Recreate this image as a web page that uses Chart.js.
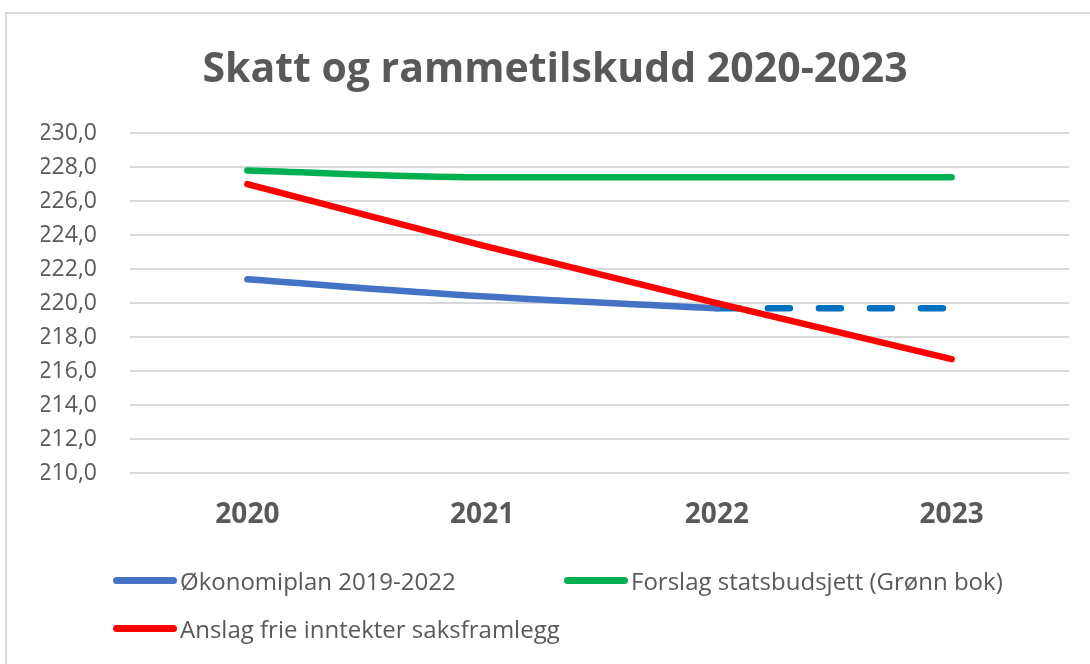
<!DOCTYPE html>
<html lang="no">
<head>
<meta charset="utf-8">
<title>Skatt og rammetilskudd 2020-2023</title>
<script src="https://cdn.jsdelivr.net/npm/chart.js@4"></script>
<style>
  html, body { margin: 0; padding: 0; background: #fff; overflow: hidden; }
  #wrap { position: relative; width: 1090px; height: 664px; overflow: hidden; }
  #frame {
    position: absolute; left: 5px; top: 12px; width: 1200px; height: 800px;
    border: 2px solid #d9d9d9; box-sizing: border-box;
  }
  #chartBox { position: absolute; left: 0; top: 0; width: 1110px; height: 664px; }
  #legend {
    position: absolute; left: 113px; top: 564px;
    display: grid; grid-template-columns: 451px auto; row-gap: 16px;
    font-family: "Open Sans", sans-serif; font-size: 24px; color: #595959;
  }
  .item { display: flex; align-items: center; height: 32px; white-space: nowrap; }
  .swatch { width: 64px; height: 7px; border-radius: 4px; margin-right: 3px; }
</style>
</head>
<body>
<div id="wrap">
  <div id="frame"></div>
  <div id="chartBox"><canvas id="chart" width="1110" height="664"></canvas></div>
  <div id="legend"></div>
</div>
<script>
const years = ["2020", "2021", "2022", "2023"];
const okonomiplan = [221.4, 220.4, 219.7, null];
const okonomiplanVidere = [null, null, 219.7, 219.7];
const statsbudsjett = [227.8, 227.4, 227.4, 227.4];
const frieInntekter = [227.0, 223.4, 220.0, 216.7];

const yMin = 210;
const yMax = 230;
const yStep = 2;

const grey = "#595959";

const chart = new Chart(document.getElementById("chart"), {
  type: "line",
  data: {
    labels: years,
    datasets: [
      {
        label: "Økonomiplan 2019-2022",
        data: okonomiplan,
        borderColor: "#4472c4",
        borderWidth: 6.5,
        cubicInterpolationMode: "monotone",
        order: 3
      },
      {
        label: "Forslag statsbudsjett (Grønn bok)",
        data: statsbudsjett,
        borderColor: "#00b050",
        borderWidth: 6.5,
        cubicInterpolationMode: "monotone",
        order: 2
      },
      {
        label: "Anslag frie inntekter saksframlegg",
        data: frieInntekter,
        borderColor: "#ff0000",
        borderWidth: 6.5,
        order: 1
      },
      {
        label: "",
        data: okonomiplanVidere,
        borderColor: "#0070c0",
        borderWidth: 6.5,
        borderDash: [22, 29],
        order: 4,
        inLegend: false
      }
    ]
  },
  options: {
    responsive: false,
    animation: false,
    layout: { padding: { left: 41, right: 41, top: 0, bottom: 0 } },
    elements: {
      point: { radius: 0, hoverRadius: 0 },
      line: { borderCapStyle: "round", borderJoinStyle: "round", fill: false }
    },
    plugins: {
      legend: { display: false },
      tooltip: { enabled: false },
      title: {
        display: true,
        text: "Skatt og rammetilskudd 2020-2023",
        color: grey,
        font: { family: "Open Sans", size: 41, weight: "bold", lineHeight: 1.2 },
        padding: { top: 46, bottom: 38 }
      }
    },
    scales: {
      x: {
        offset: true,
        grid: { display: false, drawTicks: false },
        border: { display: false },
        ticks: {
          color: grey,
          padding: 25,
          font: { family: "Open Sans", size: 28, weight: "bold" }
        },
        afterFit: s => { s.height = 191; }
      },
      y: {
        min: yMin,
        max: yMax,
        grid: { color: "#d9d9d9", lineWidth: 2, drawTicks: false },
        border: { display: false },
        ticks: {
          stepSize: yStep,
          color: grey,
          padding: 33,
          font: { family: "Open Sans", size: 23 },
          callback: v => v.toFixed(1).replace(".", ",")
        },
        afterFit: s => { s.width = 89; }
      }
    }
  }
});

// legend as html, built from the chart's datasets
const legendBox = document.getElementById("legend");
chart.data.datasets.filter(d => d.inLegend !== false).forEach(d => {
  const item = document.createElement("div");
  item.className = "item";
  const sw = document.createElement("span");
  sw.className = "swatch";
  sw.style.background = d.borderColor;
  const txt = document.createElement("span");
  txt.textContent = d.label;
  item.appendChild(sw);
  item.appendChild(txt);
  legendBox.appendChild(item);
});
</script>
</body>
</html>
